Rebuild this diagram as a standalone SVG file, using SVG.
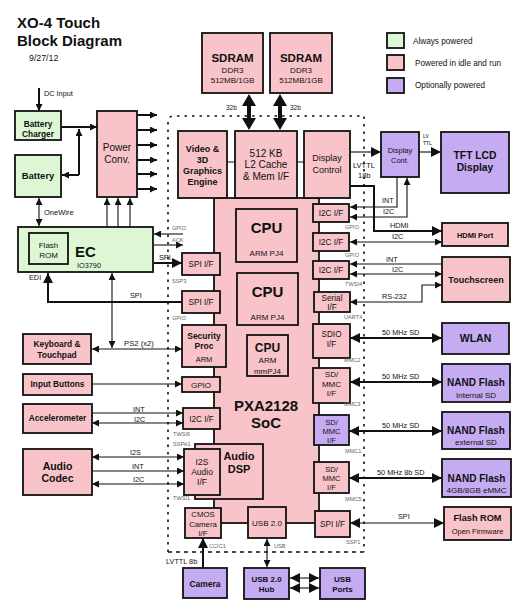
<svg xmlns="http://www.w3.org/2000/svg" width="525" height="613" viewBox="0 0 525 613">
<style>
text{font-family:"Liberation Sans",Arial,Helvetica,sans-serif;fill:#111}
.b{stroke:#111;stroke-width:1.8}
.pk{fill:#f8c4c9}
.gr{fill:#ddf7d5}
.pu{fill:#c5abf1}
.bd{font-weight:bold}
.m{text-anchor:middle}
.ln{fill:none;stroke:#111;stroke-width:1.1}
.th{stroke-width:2}
.s{font-size:5.6px;fill:#5b6b5b}
.lb{font-size:7.3px}
.bnd{fill:none;stroke:#111;stroke-width:1.6;stroke-dasharray:2.5,5}
</style>
<defs>
<marker id="a" viewBox="0 0 10 10" refX="10" refY="5" markerWidth="8" markerHeight="7" markerUnits="userSpaceOnUse" orient="auto-start-reverse"><path d="M0,0L10,5L0,10z" fill="#111"/></marker>
<marker id="A" viewBox="0 0 10 10" refX="10" refY="5" markerWidth="11" markerHeight="10" markerUnits="userSpaceOnUse" orient="auto-start-reverse"><path d="M0,0L10,5L0,10z" fill="#111"/></marker>
</defs>
<rect width="525" height="613" fill="#fff"/>

<g id="title">
<text x="17" y="28" font-size="15" class="bd">XO-4 Touch</text>
<text x="17" y="46" font-size="15" class="bd">Block Diagram</text>
<text x="29" y="61" font-size="8.8">9/27/12</text>
</g>

<g id="legend">
<rect x="387" y="33" width="17" height="15" class="gr b" stroke-width="1.2"/>
<rect x="387" y="55" width="17" height="15" class="pk b" stroke-width="1.2"/>
<rect x="387" y="78" width="17" height="15" class="pu b" stroke-width="1.2"/>
<text x="413" y="44" font-size="8.2" fill="#444">Always powered</text>
<text x="415" y="66" font-size="8.2" fill="#444">Powered in idle and run</text>
<text x="415" y="88" font-size="8.2" fill="#444">Optionally powered</text>
</g>

<g id="boundary">
<path class="bnd" d="M168,552 V122 Q168,116 174,116 H364 V552"/>
<path d="M168,552 H365" fill="none" stroke="#111" stroke-width="1.5" stroke-dasharray="4,4"/>
</g>

<g id="soc-body">
<rect x="214" y="198" width="105" height="325" class="pk b"/>
<text x="266" y="411" font-size="15" class="bd m">PXA2128</text>
<text x="266" y="428" font-size="15" class="bd m">SoC</text>
</g>

<g id="sdram1">
<rect x="202" y="33" width="61" height="60" class="pk b"/>
<text x="232.5" y="62" font-size="11.5" class="bd m">SDRAM</text>
<text x="232.5" y="73" font-size="8" class="m">DDR3</text>
<text x="232.5" y="83" font-size="8" class="m">512MB/1GB</text>
</g>
<g id="sdram2">
<rect x="270" y="33" width="62" height="60" class="pk b"/>
<text x="301" y="62" font-size="11.5" class="bd m">SDRAM</text>
<text x="301" y="73" font-size="8" class="m">DDR3</text>
<text x="301" y="83" font-size="8" class="m">512MB/1GB</text>
</g>

<g id="video">
<rect x="178" y="131" width="49" height="67" class="pk b"/>
<text x="202.5" y="152" font-size="9" class="bd m">Video &amp;</text>
<text x="202.5" y="163" font-size="9" class="bd m">3D</text>
<text x="202.5" y="174" font-size="9" class="bd m">Graphics</text>
<text x="202.5" y="185" font-size="9" class="bd m">Engine</text>
</g>
<g id="l2cache">
<rect x="235" y="131" width="62" height="67" class="pk b"/>
<text x="266" y="156.5" font-size="10" class="m">512 KB</text>
<text x="266" y="168" font-size="10" class="m">L2 Cache</text>
<text x="266" y="179.5" font-size="10" class="m">&amp; Mem I/F</text>
</g>
<g id="display-control">
<rect x="304" y="131" width="46" height="67" class="pk b"/>
<text x="327" y="161" font-size="9" class="m">Display</text>
<text x="327" y="173" font-size="9" class="m">Control</text>
</g>

<g id="cpu1">
<rect x="236" y="209" width="61" height="53" class="pk b"/>
<text x="266.5" y="233" font-size="15" class="bd m">CPU</text>
<text x="266.5" y="256" font-size="8" class="m">ARM PJ4</text>
</g>
<g id="cpu2">
<rect x="237" y="273" width="61" height="52" class="pk b"/>
<text x="267.5" y="297" font-size="15" class="bd m">CPU</text>
<text x="267.5" y="320" font-size="8" class="m">ARM PJ4</text>
</g>
<g id="cpu3">
<rect x="247" y="335" width="41" height="41" class="pk b"/>
<text x="267.5" y="352" font-size="12" class="bd m">CPU</text>
<text x="267.5" y="363" font-size="8" class="m">ARM</text>
<text x="267.5" y="373.5" font-size="8" class="m">mmPJ4</text>
</g>

<g id="spi-if1">
<rect x="182" y="253" width="38" height="22" class="pk b"/>
<text x="201" y="267" font-size="8.2" class="m">SPI I/F</text>
</g>
<g id="spi-if2">
<rect x="182" y="291" width="38" height="22" class="pk b"/>
<text x="201" y="305" font-size="8.2" class="m">SPI I/F</text>
</g>
<g id="security">
<rect x="182" y="325" width="44" height="42" class="pk b"/>
<text x="204" y="338.5" font-size="8.5" class="bd m">Security</text>
<text x="204" y="348.5" font-size="8.5" class="bd m">Proc</text>
<text x="204" y="362" font-size="7.5" class="m">ARM</text>
</g>
<g id="gpio">
<rect x="182" y="377" width="38" height="15" class="pk b"/>
<text x="201" y="388" font-size="8" class="m">GPIO</text>
</g>
<g id="i2c-left">
<rect x="183" y="408" width="37" height="21" class="pk b"/>
<text x="201.5" y="421.5" font-size="8.2" class="m">I2C I/F</text>
</g>
<g id="audio-dsp">
<rect x="195" y="444" width="68" height="55" class="pk b"/>
<text x="239" y="460" font-size="11" class="bd m">Audio</text>
<text x="239" y="473" font-size="11" class="bd m">DSP</text>
</g>
<g id="i2s-if">
<rect x="184" y="449" width="36" height="46" class="pk b"/>
<text x="202" y="465" font-size="8.5" class="m">I2S</text>
<text x="202" y="475" font-size="8.5" class="m">Audio</text>
<text x="202" y="485" font-size="8.5" class="m">I/F</text>
</g>
<g id="cmos-if">
<rect x="185" y="508" width="36" height="30" class="pk b"/>
<text x="203" y="517" font-size="7.8" class="m">CMOS</text>
<text x="203" y="526.5" font-size="7.8" class="m">Camera</text>
<text x="203" y="535.5" font-size="7.8" class="m">I/F</text>
</g>
<g id="usb20">
<rect x="248" y="507" width="38" height="31" class="pk b"/>
<text x="267" y="526" font-size="8" class="m">USB 2.0</text>
</g>

<g id="i2c-r1">
<rect x="313" y="204" width="36" height="18" class="pk b"/>
<text x="331" y="216" font-size="8.2" class="m">I2C I/F</text>
</g>
<g id="i2c-r2">
<rect x="313" y="233" width="36" height="18" class="pk b"/>
<text x="331" y="245" font-size="8.2" class="m">I2C I/F</text>
</g>
<g id="i2c-r3">
<rect x="313" y="261" width="36" height="18" class="pk b"/>
<text x="331" y="273" font-size="8.2" class="m">I2C I/F</text>
</g>
<g id="serial-if">
<rect x="314" y="292" width="36" height="20" class="pk b"/>
<text x="332" y="300.5" font-size="8.2" class="m">Serial</text>
<text x="332" y="310" font-size="8.2" class="m">I/F</text>
</g>
<g id="sdio-if">
<rect x="313" y="324" width="37" height="34" class="pk b"/>
<text x="331.5" y="337" font-size="8.2" class="m">SDIO</text>
<text x="331.5" y="347" font-size="8.2" class="m">I/F</text>
</g>
<g id="sdmmc1">
<rect x="313" y="368" width="37" height="35" class="pk b"/>
<text x="331.5" y="377" font-size="8" class="m">SD/</text>
<text x="331.5" y="386.5" font-size="8" class="m">MMC</text>
<text x="331.5" y="396" font-size="8" class="m">I/F</text>
</g>
<g id="sdmmc2">
<rect x="314" y="415" width="35" height="30" class="pu b"/>
<text x="331.5" y="425" font-size="7.6" class="m">SD/</text>
<text x="331.5" y="434" font-size="7.6" class="m">MMC</text>
<text x="331.5" y="443" font-size="7.6" class="m">I/F</text>
</g>
<g id="sdmmc3">
<rect x="314" y="462" width="35" height="31" class="pk b"/>
<text x="331.5" y="472" font-size="7.6" class="m">SD/</text>
<text x="331.5" y="481" font-size="7.6" class="m">MMC</text>
<text x="331.5" y="490" font-size="7.6" class="m">I/F</text>
</g>
<g id="spi-r">
<rect x="315" y="511" width="35" height="26" class="pk b"/>
<text x="332.5" y="527" font-size="8.2" class="m">SPI I/F</text>
</g>

<g id="display-cont">
<rect x="381" y="132" width="38" height="45" class="pu b"/>
<text x="400" y="153" font-size="7.5" class="m" fill="#333">Display</text>
<text x="400" y="163" font-size="7.5" class="m" fill="#333">Cont.</text>
</g>
<g id="tft">
<rect x="441" y="132" width="68" height="61" class="pu b"/>
<text x="475" y="159" font-size="10.3" class="bd m">TFT LCD</text>
<text x="475" y="171" font-size="10.3" class="bd m">Display</text>
</g>
<g id="hdmi">
<rect x="442" y="223" width="66" height="23" class="pk b"/>
<text x="475" y="238" font-size="7.5" class="bd m">HDMI Port</text>
</g>
<g id="touchscreen">
<rect x="442" y="257" width="68" height="45" class="pk b"/>
<text x="476" y="283" font-size="9" class="bd m">Touchscreen</text>
</g>
<g id="wlan">
<rect x="442" y="323" width="67" height="31" class="pu b"/>
<text x="475.5" y="342" font-size="10.5" class="bd m">WLAN</text>
</g>
<g id="nand-int">
<rect x="442" y="364" width="68" height="38" class="pu b"/>
<text x="476" y="386" font-size="10" class="bd m">NAND Flash</text>
<text x="476" y="397.5" font-size="8" class="m">Internal SD</text>
</g>
<g id="nand-ext">
<rect x="442" y="412" width="68" height="37" class="pu b"/>
<text x="476" y="434" font-size="10" class="bd m">NAND Flash</text>
<text x="476" y="445" font-size="8" class="m">external SD</text>
</g>
<g id="nand-emmc">
<rect x="442" y="459" width="69" height="38" class="pu b"/>
<text x="476.5" y="482" font-size="10" class="bd m">NAND Flash</text>
<text x="476.5" y="492.5" font-size="8" class="m">4GB/8GB eMMC</text>
</g>
<g id="flash-rom">
<rect x="444" y="507" width="67" height="33" class="pk b"/>
<text x="477.5" y="521" font-size="9.2" class="bd m">Flash ROM</text>
<text x="477.5" y="533.5" font-size="7.5" class="m">Open Firmware</text>
</g>

<g id="camera">
<rect x="183" y="568" width="44" height="30" class="pu b"/>
<text x="205" y="587" font-size="8.5" class="bd m">Camera</text>
</g>
<g id="usb-hub">
<rect x="244" y="568" width="45" height="31" class="pu b"/>
<text x="266.5" y="582" font-size="8" class="bd m">USB 2.0</text>
<text x="266.5" y="592" font-size="8" class="bd m">Hub</text>
</g>
<g id="usb-ports">
<rect x="320" y="568" width="45" height="31" class="pu b"/>
<text x="342.5" y="582" font-size="8" class="bd m">USB</text>
<text x="342.5" y="592" font-size="8" class="bd m">Ports</text>
</g>

<g id="battery-charger">
<rect x="15" y="111" width="46" height="29" class="gr b"/>
<text x="38" y="126.5" font-size="8.3" class="bd m">Battery</text>
<text x="38" y="136.5" font-size="8.3" class="bd m">Charger</text>
</g>
<g id="battery">
<rect x="15" y="155" width="46" height="42" class="gr b"/>
<text x="38" y="178.5" font-size="9.5" class="bd m">Battery</text>
</g>
<g id="power-conv">
<rect x="97" y="111" width="40" height="86" class="pk b"/>
<text x="117" y="150.5" font-size="10" class="m">Power</text>
<text x="117" y="162.5" font-size="10" class="m">Conv.</text>
</g>
<g id="ec">
<rect x="18" y="227" width="135" height="45" class="gr b"/>
<rect x="29" y="233" width="39" height="31" class="gr b"/>
<text x="48.5" y="248" font-size="8" class="m" fill="#333">Flash</text>
<text x="48.5" y="257.5" font-size="8" class="m" fill="#333">ROM</text>
<text x="75" y="257" font-size="15" class="bd">EC</text>
<text x="77" y="268" font-size="7.3">IO3790</text>
</g>
<g id="keyboard">
<rect x="23" y="334" width="68" height="30" class="pk b"/>
<text x="57" y="347" font-size="8.4" class="bd m">Keyboard &amp;</text>
<text x="57" y="357.5" font-size="8.4" class="bd m">Touchpad</text>
</g>
<g id="input-buttons">
<rect x="23" y="374" width="69" height="21" class="pk b"/>
<text x="57.5" y="387" font-size="8.3" class="bd m">Input Buttons</text>
</g>
<g id="accelerometer">
<rect x="23" y="404" width="69" height="29" class="pk b"/>
<text x="57.5" y="421" font-size="8.3" class="bd m">Accelerometer</text>
</g>
<g id="audio-codec">
<rect x="23" y="449" width="69" height="46" class="pk b"/>
<text x="57.5" y="469.5" font-size="10.5" class="bd m">Audio</text>
<text x="57.5" y="482" font-size="10.5" class="bd m">Codec</text>
</g>

<g id="connectors">
<polygon points="249,94 256,106 251,106 251,118 256,118 249,130 242,118 247,118 247,106 242,106" fill="#111"/>
<polygon points="280,94 287,106 282,106 282,118 287,118 280,130 273,118 278,118 278,106 273,106" fill="#111"/>
<path class="ln" d="M227,162H235M297,162H304"/>
<path class="ln th" d="M39,88V111" marker-end="url(#a)"/>
<path class="ln th" d="M61,127H97" marker-end="url(#a)"/>
<path class="ln th" d="M79,175V129" marker-end="url(#a)"/>
<path class="ln th" d="M79,175H62" marker-end="url(#a)"/>
<path class="ln th" d="M137,115H157" marker-end="url(#a)"/>
<path class="ln th" d="M137,130H157" marker-end="url(#a)"/>
<path class="ln th" d="M137,145H157" marker-end="url(#a)"/>
<path class="ln th" d="M137,160H157" marker-end="url(#a)"/>
<path class="ln th" d="M137,174H157" marker-end="url(#a)"/>
<path class="ln th" d="M137,189H157" marker-end="url(#a)"/>
<path class="ln" stroke-width="1.5" d="M107,227V198" marker-end="url(#a)"/>
<path class="ln" stroke-width="1.5" d="M118,227V198" marker-end="url(#a)"/>
<path class="ln" stroke-width="1.5" d="M130,227V198" marker-end="url(#a)"/>
<path class="ln" stroke-width="1.5" d="M39,198V226" marker-start="url(#a)" marker-end="url(#a)"/>
<path class="ln" d="M183,234H154" marker-end="url(#a)"/>
<path class="ln" d="M154,245H183" marker-end="url(#a)"/>
<path class="ln th" d="M154,263H182" marker-end="url(#A)"/>
<path class="ln th" d="M182,302H48V273" marker-end="url(#A)"/>
<path class="ln" stroke-width="1.3" d="M112,273V348" marker-start="url(#a)" marker-end="url(#a)"/>
<path class="ln" stroke-width="1.3" d="M92,349H182" marker-start="url(#a)" marker-end="url(#a)"/>
<path class="ln" stroke-width="1.3" d="M92,384H182" marker-end="url(#a)"/>
<path class="ln" d="M92,413H183" marker-end="url(#a)"/>
<path class="ln" d="M92,423H183" marker-start="url(#a)" marker-end="url(#a)"/>
<path class="ln" d="M92,457H184" marker-start="url(#a)" marker-end="url(#a)"/>
<path class="ln" d="M92,471H184" marker-end="url(#a)"/>
<path class="ln" d="M92,484H184" marker-start="url(#a)" marker-end="url(#a)"/>
<path class="ln th" d="M203,568V538" marker-end="url(#A)"/>
<path class="ln" d="M267,539V567" marker-start="url(#a)" marker-end="url(#a)"/>
<path class="ln" stroke-width="1.5" d="M290,578H319" marker-start="url(#A)" marker-end="url(#A)"/>
<path class="ln" stroke-width="1.5" d="M290,588H319" marker-start="url(#A)" marker-end="url(#A)"/>
<path class="ln" stroke-width="1.5" d="M350,152H381" marker-end="url(#A)"/>
<path class="ln" stroke-width="1.5" d="M419,152H441" marker-end="url(#A)"/>
<path class="ln th" d="M350,186H374V231H442" marker-end="url(#A)"/>
<path class="ln" d="M397,177V207H350" marker-end="url(#a)"/>
<path class="ln" d="M350,217H407V178" marker-start="url(#a)" marker-end="url(#a)"/>
<path class="ln" d="M350,242H442" marker-start="url(#a)" marker-end="url(#a)"/>
<path class="ln" d="M442,264H350" marker-end="url(#a)"/>
<path class="ln" d="M350,274H442" marker-start="url(#a)" marker-end="url(#a)"/>
<path class="ln" d="M350,302H422V285H442" marker-start="url(#a)" marker-end="url(#a)"/>
<path class="ln th" d="M350,338H442" marker-start="url(#A)" marker-end="url(#A)"/>
<path class="ln th" d="M350,382H442" marker-start="url(#A)" marker-end="url(#A)"/>
<path class="ln th" d="M349,431H442" marker-start="url(#A)" marker-end="url(#A)"/>
<path class="ln th" d="M349,478H442" marker-start="url(#A)" marker-end="url(#A)"/>
<path class="ln" stroke-width="1.5" d="M350,523H444" marker-start="url(#A)" marker-end="url(#A)"/>
</g>

<g id="connector-labels">
<text x="226" y="110" font-size="6.5">32b</text>
<text x="290" y="110" font-size="6.5">32b</text>
<text x="44" y="96" font-size="7.3">DC Input</text>
<text x="44" y="215" font-size="7.5">OneWire</text>
<text x="29" y="280" font-size="7.3">EDI</text>
<text x="159" y="260" class="lb">SPI</text>
<text x="130" y="298" class="lb">SPI</text>
<text x="124" y="346" font-size="7.7">PS2 (x2)</text>
<text x="133" y="412" class="lb">INT</text>
<text x="134" y="422" class="lb">I2C</text>
<text x="130" y="455" class="lb">I2S</text>
<text x="132" y="469" class="lb">INT</text>
<text x="133" y="482" class="lb">I2C</text>
<text x="166" y="564" class="lb">LVTTL 8b</text>
<text x="353" y="168" font-size="7.5" fill="#633">LVTTL</text>
<text x="358" y="178" font-size="7.5" fill="#633">18b</text>
<text x="423" y="138" font-size="5" fill="#444">LV</text>
<text x="423" y="145" font-size="5" fill="#444">TTL</text>
<text x="382" y="203" class="lb">INT</text>
<text x="383" y="214" class="lb">I2C</text>
<text x="390" y="228" class="lb" fill="#6040a0">HDMI</text>
<text x="392" y="239" class="lb">I2C</text>
<text x="386" y="262" class="lb">INT</text>
<text x="392" y="272" class="lb">I2C</text>
<text x="382" y="299" class="lb">RS-232</text>
<text x="382" y="335" class="lb">50 MHz SD</text>
<text x="382" y="379" class="lb">50 MHz SD</text>
<text x="382" y="428" class="lb">50 MHz SD</text>
<text x="377" y="475" class="lb">50 MHz 8b SD</text>
<text x="398" y="519" class="lb">SPI</text>
<text x="172" y="230" class="s">GPIO</text>
<text x="172" y="242" class="s">ACK</text>
<text x="172" y="283" class="s">SSP3</text>
<text x="172" y="320" class="s">GPIO</text>
<text x="173" y="436" class="s">TWSI6</text>
<text x="173" y="446" class="s">SSPA1</text>
<text x="173" y="500" class="s">TWSI1</text>
<text x="209" y="548" class="s">CCIC1</text>
<text x="274" y="548" class="s">USB</text>
<text x="345" y="229" class="s">GPIO</text>
<text x="345" y="257" class="s">GPIO</text>
<text x="345" y="286" class="s">TWSI4</text>
<text x="344" y="319" class="s">UART4</text>
<text x="344" y="362" class="s">MMC2</text>
<text x="344" y="406" class="s">MMC3</text>
<text x="345" y="453" class="s">MMC1</text>
<text x="345" y="501" class="s">MMC5</text>
<text x="346" y="544" class="s">SSP1</text>
</g>
</svg>
